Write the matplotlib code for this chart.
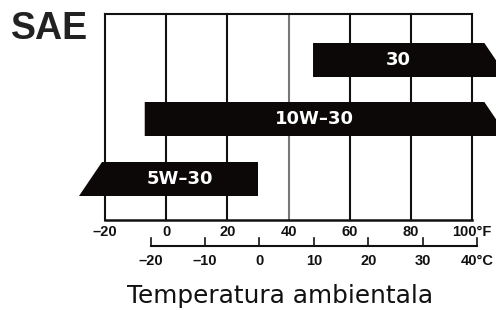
import matplotlib.pyplot as plt
from matplotlib.patches import Polygon

# viscosity grades and their temperature range (deg F); None = open ended
grades = ['30', '10W–30', '5W–30']
low_f = [48, -7, None]
high_f = [None, None, 30]

f_ticks = [-20, 0, 20, 40, 60, 80, 100]
f_labels = ['–20', '0', '20', '40', '60', '80', '100°F']
c_ticks = [-20, -10, 0, 10, 20, 30, 40]
c_labels = ['–20', '–10', '0', '10', '20', '30', '40°C']


def c_to_f(c):
    # scale as printed on the scanned chart
    return c * 1.78 + 30.5


fig = plt.figure(figsize=(4.96, 3.10), dpi=100)
ax = fig.add_axes([0, 0, 1, 1])
ax.set_xlim(-54.3, 107.8)
ax.set_ylim(310, 0)
ax.axis('off')

top, bottom = 14, 220
# frame + vertical grid
for f in f_ticks:
    ax.plot([f, f], [top, bottom], color='#777777' if f == 40 else '#111111',
            lw=1.5, solid_capstyle='projecting', zorder=1)
ax.plot([f_ticks[0], f_ticks[-1]], [top, top], color='#111111', lw=1.5, zorder=1)
ax.plot([f_ticks[0], f_ticks[-1]], [bottom, bottom], color='#111111', lw=1.8, zorder=1)

# bars
rows = [60, 119, 179]
half_h = 17
slant = 7.5
for g, lo, hi, yc in zip(grades, low_f, high_f, rows):
    y0, y1 = yc - half_h, yc + half_h
    if lo is None:
        left_top, left_bot = -21, -21 - slant
    else:
        left_top = left_bot = lo
    if hi is None:
        right_top, right_bot = 104, 104 + slant
    else:
        right_top = right_bot = hi
    ax.add_patch(Polygon([[left_top, y0], [right_top, y0], [right_bot, y1], [left_bot, y1]],
                         closed=True, facecolor='#0d0808', edgecolor='none', zorder=2))
    xc = (max(left_top, left_bot) + min(right_top, right_bot, 107.8)) / 2
    ax.text(xc, yc, g, color='white', fontsize=13, fontweight='bold',
            family='DejaVu Sans', ha='center', va='center', zorder=3)

tick_font = dict(fontsize=10.5, fontweight='bold', family=['Liberation Sans', 'DejaVu Sans'],
                 ha='center', va='center', color='#111111')
for f, lab in zip(f_ticks, f_labels):
    ax.text(f, 232, lab, **tick_font)

# celsius scale
c_line = 246
ax.plot([c_to_f(c_ticks[0]), c_to_f(c_ticks[-1])], [c_line, c_line], color='#111111', lw=1.5)
for c, lab in zip(c_ticks, c_labels):
    ax.plot([c_to_f(c), c_to_f(c)], [c_line, c_line - 8], color='#111111', lw=1.2)
    ax.text(c_to_f(c), 261, lab, **tick_font)

ax.text(-38, 29, 'SAE', fontsize=27, fontweight='bold', family='Liberation Sans',
        ha='center', va='center', color='#222222')
ax.text(37.2, 296, 'Temperatura ambientala', fontsize=17.8, family='DejaVu Sans',
        ha='center', va='center', color='#111111')

fig.savefig('out.png', dpi=100)
